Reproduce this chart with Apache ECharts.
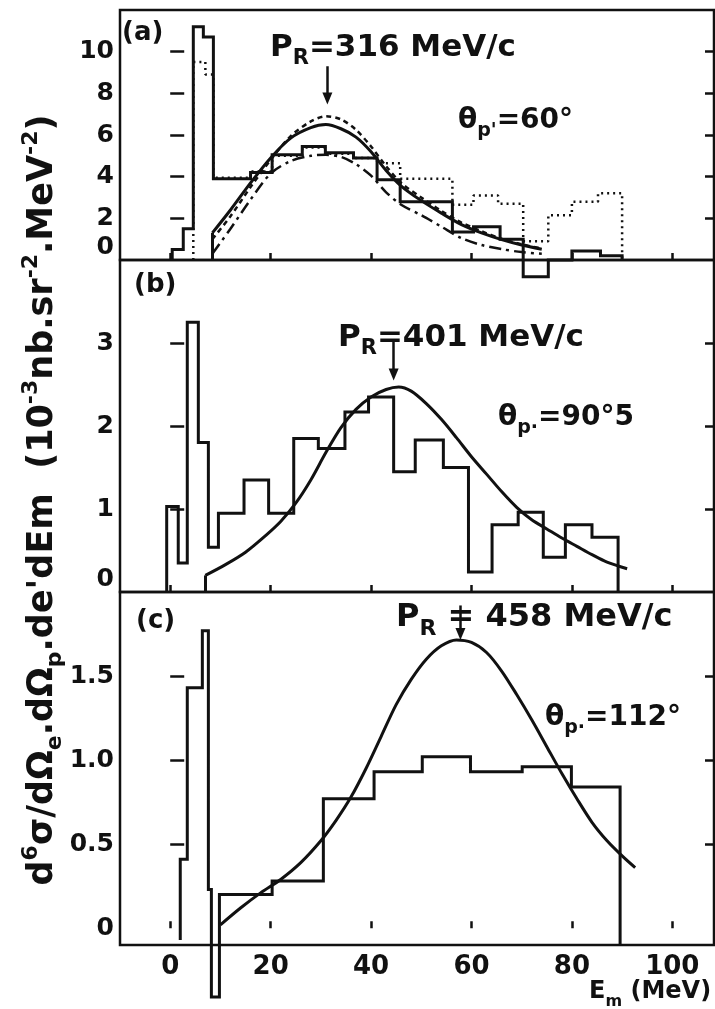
<!DOCTYPE html>
<html><head><meta charset="utf-8">
<script src="https://cdn.jsdelivr.net/npm/echarts@6/dist/echarts.min.js"></script>
<style>html,body{margin:0;padding:0;background:#fff}#c{width:715px;height:1009px}</style>
</head><body><div id="c"></div>
<script>
// ---------- axis ticks ----------
const xTickValues = [0, 20, 40, 60, 80, 100];
const yTicksA = [0, 2, 4, 6, 8, 10];
const yTicksB = [0, 1, 2, 3];
const yTicksC = [0, 0.5, 1.0, 1.5];

// ---------- panel (a) ----------
const histA_edges  = [0.4, 2.6, 4.6, 6.6, 8.6, 16, 20.3, 26.3, 30.9, 36.5, 41.2, 45.8, 56.2, 60.4, 65.7, 70.3, 75.3, 80, 85.7, 90];
const histA_values = [0.5, 1.5, 11.2, 10.7, 3.9, 4.2, 5.05, 5.45, 5.15, 4.9, 3.85, 2.8, 1.35, 1.6, 1.0, -0.8, 0, 0.43, 0.2];
const histA2_edges  = [4.6, 7, 8.6, 16, 20.3, 26.3, 30.9, 36.5, 41.2, 45.8, 56.2, 60.4, 65.3, 70.3, 75.3, 80, 85.2, 90];
const histA2_values = [9.5, 8.9, 3.95, 4.25, 5.0, 5.4, 5.1, 4.9, 4.65, 3.9, 2.65, 3.1, 2.7, 0.9, 2.15, 2.8, 3.2];
const curveA_E       = [8.4, 12, 16, 20, 24, 28, 31, 34, 37, 40, 43, 46, 50, 54, 58, 62, 66, 70, 74];
const curveA_solid   = [1.3, 2.4, 3.7, 4.9, 5.85, 6.35, 6.5, 6.3, 5.9, 5.2, 4.3, 3.55, 2.85, 2.25, 1.7, 1.3, 0.98, 0.72, 0.52];
const curveA_dotted  = [1.0, 2.1, 3.5, 4.8, 5.95, 6.65, 6.9, 6.75, 6.25, 5.45, 4.5, 3.7, 3.0, 2.35, 1.8, 1.38, 1.02, 0.75, 0.55];
const curveA_dashdot = [0.3, 1.5, 2.9, 4.15, 4.75, 5.0, 5.05, 4.95, 4.6, 4.05, 3.25, 2.65, 2.15, 1.6, 1.05, 0.72, 0.52, 0.38, 0.3];

// ---------- panel (b) ----------
const histB_edges  = [-0.7, 1.6, 3.4, 5.6, 7.6, 9.6, 14.7, 19.6, 24.6, 29.5, 34.8, 39.5, 44.5, 48.8, 54.4, 59.4, 64.1, 69.3, 74.3, 78.7, 84, 89.2];
const histB_values = [1.03, 0.35, 3.25, 1.8, 0.54, 0.95, 1.35, 0.95, 1.85, 1.73, 2.17, 2.35, 1.45, 1.83, 1.5, 0.24, 0.81, 0.96, 0.42, 0.81, 0.66];
const curveB_E = [7, 11, 15, 19, 22, 25, 28, 31, 34, 37, 40, 43, 45.5, 48, 51, 54, 57, 60, 63, 66, 69, 72, 75, 78, 81, 84, 87, 91];
const curveB_V = [0.2, 0.33, 0.48, 0.68, 0.85, 1.07, 1.35, 1.68, 1.98, 2.2, 2.35, 2.44, 2.47, 2.42, 2.27, 2.08, 1.86, 1.63, 1.42, 1.21, 1.02, 0.87, 0.76, 0.65, 0.55, 0.45, 0.36, 0.28];

// ---------- panel (c) ----------
const histC_edges  = [2, 3.4, 6.4, 7.6, 8.2, 9.8, 20.3, 30.5, 40.6, 50.2, 59.8, 70.1, 79.9, 89.6];
const histC_values = [0.41, 1.43, 1.77, 0.23, -0.41, 0.2, 0.28, 0.77, 0.93, 1.02, 0.93, 0.96, 0.84];
const curveC_E = [10, 14, 18, 22, 26, 30, 33, 36, 39, 42, 45, 48, 51, 54, 57, 60, 63, 66, 69, 72, 75, 78, 81, 84, 87, 90, 92.6];
const curveC_V = [0.02, 0.12, 0.21, 0.29, 0.39, 0.52, 0.64, 0.78, 0.95, 1.14, 1.33, 1.48, 1.6, 1.68, 1.715, 1.7, 1.64, 1.53, 1.39, 1.24, 1.08, 0.92, 0.77, 0.63, 0.52, 0.43, 0.36];

// recoil-momentum pointers (E_m position of arrows)
const pointerE = [31.3, 44.5, 57.8];

// ---------- helpers ----------
function steps(edges, vals, startBase, endBase) {
  const pts = [[edges[0], startBase]];
  for (let i = 0; i < vals.length; i++) {
    pts.push([edges[i], vals[i]], [edges[i + 1], vals[i]]);
  }
  pts.push([edges[edges.length - 1], endBase]);
  return pts;
}
function zip(a, b) { return a.map((x, i) => [x, b[i]]); }

const FF = 'DejaVu Sans';
const FW = 'bold';
const INK = '#111';
function lineSeries(gi, data, opts) {
  return Object.assign({
    type: 'line', xAxisIndex: gi, yAxisIndex: gi * 2, data: data,
    symbol: 'none', showSymbol: false, clip: false, animation: false, silent: true,
    lineStyle: { color: INK, width: 3, join: 'miter' }, z: 3
  }, opts);
}
function arrowMark(e, from, to) {
  return {
    silent: true, symbol: ['none', 'triangle'], symbolSize: [10, 12], symbolRotate: 180,
    lineStyle: { color: INK, width: 2.5, type: 'solid' }, label: { show: false },
    emphasis: { disabled: true }, animation: false,
    data: [[{ coord: [e, from] }, { coord: [e, to] }]]
  };
}
function riserMark(e, v) {
  return {
    silent: true, symbol: ['none', 'none'], lineStyle: { color: INK, width: 3, type: 'solid' },
    label: { show: false }, animation: false, emphasis: { disabled: true },
    data: [[{ coord: [e, 0] }, { coord: [e, v] }]]
  };
}

const grids = [
  { left: 120, top: 10, width: 594, height: 250 },
  { left: 120, top: 260, width: 594, height: 332 },
  { left: 120, top: 592, width: 594, height: 353 }
].map(g => Object.assign(g, { show: true, borderColor: INK, borderWidth: 2.5, backgroundColor: 'transparent', containLabel: false }));
grids.push({ left: 120, top: 100, width: 594, height: 800, show: false });

const yRanges = [[0, 12, yTicksA], [0, 4, yTicksB], [-0.1, 2.0, yTicksC]];
const xAxes = [0, 1, 2].map(i => ({
  type: 'value', gridIndex: i, min: -10, max: 108.3,
  axisLine: { show: false }, splitLine: { show: false },
  axisTick: { show: true, inside: true, length: 7, customValues: xTickValues, lineStyle: { color: INK, width: 2.5 } },
  axisLabel: { show: i === 2, customValues: xTickValues, margin: 9, fontFamily: FF, fontWeight: FW, fontSize: 26, color: INK }
}));
xAxes.push({ type: 'value', gridIndex: 3, min: 0, max: 1, show: false });

const yAxes = [];
yRanges.forEach((r, i) => {
  const tickVals = r[2].filter(v => v !== 0);
  yAxes.push({
    type: 'value', gridIndex: i, min: r[0], max: r[1], position: 'left',
    axisLine: { show: false }, splitLine: { show: false },
    axisTick: { show: true, inside: true, length: 14, customValues: tickVals, lineStyle: { color: INK, width: 2.5 } },
    axisLabel: {
      customValues: r[2], margin: 6, fontFamily: FF, fontWeight: FW, fontSize: 25, color: INK,
      verticalAlignMinLabel: i < 2 ? 'bottom' : null,
      formatter: v => (i === 2 ? (v === 0 ? '0' : v.toFixed(1)) : String(v))
    }
  });
  yAxes.push({
    type: 'value', gridIndex: i, min: r[0], max: r[1], position: 'right',
    axisLine: { show: false }, splitLine: { show: false },
    axisTick: { show: true, inside: true, length: 9, customValues: tickVals, lineStyle: { color: INK, width: 2.5 } },
    axisLabel: { show: false }
  });
});
yAxes.push({
  type: 'value', gridIndex: 3, min: 0, max: 1,
  axisLine: { show: false }, axisTick: { show: false }, axisLabel: { show: false }, splitLine: { show: false },
  name: "d{sup|6}σ/dΩ{sub|e}.dΩ{sub|p}.de'dEm  (10{sup|-3}nb.sr{sup|-2}.MeV{sup|-2})",
  nameLocation: 'middle', nameRotate: 90, nameGap: 54,
  nameTextStyle: {
    fontFamily: FF, fontWeight: FW, fontSize: 35, color: INK, lineHeight: 46,
    rich: {
      sup: { fontFamily: FF, fontWeight: FW, fontSize: 22, color: INK, verticalAlign: 'top', lineHeight: 22 },
      sub: { fontFamily: FF, fontWeight: FW, fontSize: 22, color: INK, verticalAlign: 'bottom', lineHeight: 22 }
    }
  }
});

const series = [
  // panel (a)
  lineSeries(0, steps(histA2_edges, histA2_values, 0, 0), { lineStyle: { color: INK, width: 2.5, type: [2, 4] }, z: 2 }),
  lineSeries(0, steps(histA_edges, histA_values, 0, 0), { markLine: arrowMark(pointerE[0], 9.3, 7.75) }),
  lineSeries(0, zip(curveA_E, curveA_solid), { smooth: 0.3, markLine: riserMark(curveA_E[0], curveA_solid[0]) }),
  lineSeries(0, zip(curveA_E, curveA_dotted), { smooth: 0.3, lineStyle: { color: INK, width: 2.5, type: [5, 4] } }),
  lineSeries(0, zip(curveA_E, curveA_dashdot), { smooth: 0.3, lineStyle: { color: INK, width: 2.5, type: [12, 5, 3, 5] } }),
  // panel (b)
  lineSeries(1, steps(histB_edges, histB_values, 0, 0), { markLine: arrowMark(pointerE[1], 3.02, 2.62) }),
  lineSeries(1, zip(curveB_E, curveB_V), { smooth: 0.3, markLine: riserMark(curveB_E[0], curveB_V[0]) }),
  // panel (c)
  lineSeries(2, steps(histC_edges, histC_values, -0.07, -0.1), { markLine: arrowMark(pointerE[2], 1.92, 1.75) }),
  lineSeries(2, zip(curveC_E, curveC_V), { smooth: 0.3 })
];

function txt(text, left, top, size) {
  return {
    text: text, left: left, top: top, padding: 0,
    textStyle: {
      fontFamily: FF, fontSize: size, fontWeight: FW, color: INK, lineHeight: size + 12,
      rich: {
        s: { fontFamily: FF, fontWeight: FW, fontSize: Math.round(size * 0.68), color: INK, verticalAlign: 'bottom', lineHeight: Math.round(size * 0.68) }
      }
    }
  };
}
const titles = [
  txt('(a)', 122, 14, 26),
  txt('P{s|R}=316 MeV/c', 270, 26, 31),
  txt("θ{s|p'}=60°", 458, 101, 28),
  txt('(b)', 134, 266, 26),
  txt('P{s|R}=401 MeV/c', 338, 316, 31),
  txt('θ{s|p·}=90°5', 498, 398, 28),
  txt('(c)', 136, 602, 26),
  txt('P{s|R} = 458 MeV/c', 396, 596, 32),
  txt('θ{s|p·}=112°', 545, 698, 28),
  txt('E{s|m} (MeV)', 589, 974, 24)
];

const chart = echarts.init(document.getElementById('c'), null, { renderer: 'canvas' });
chart.setOption({
  backgroundColor: '#fff', animation: false,
  title: titles, grid: grids, xAxis: xAxes, yAxis: yAxes, series: series
});
</script></body></html>
